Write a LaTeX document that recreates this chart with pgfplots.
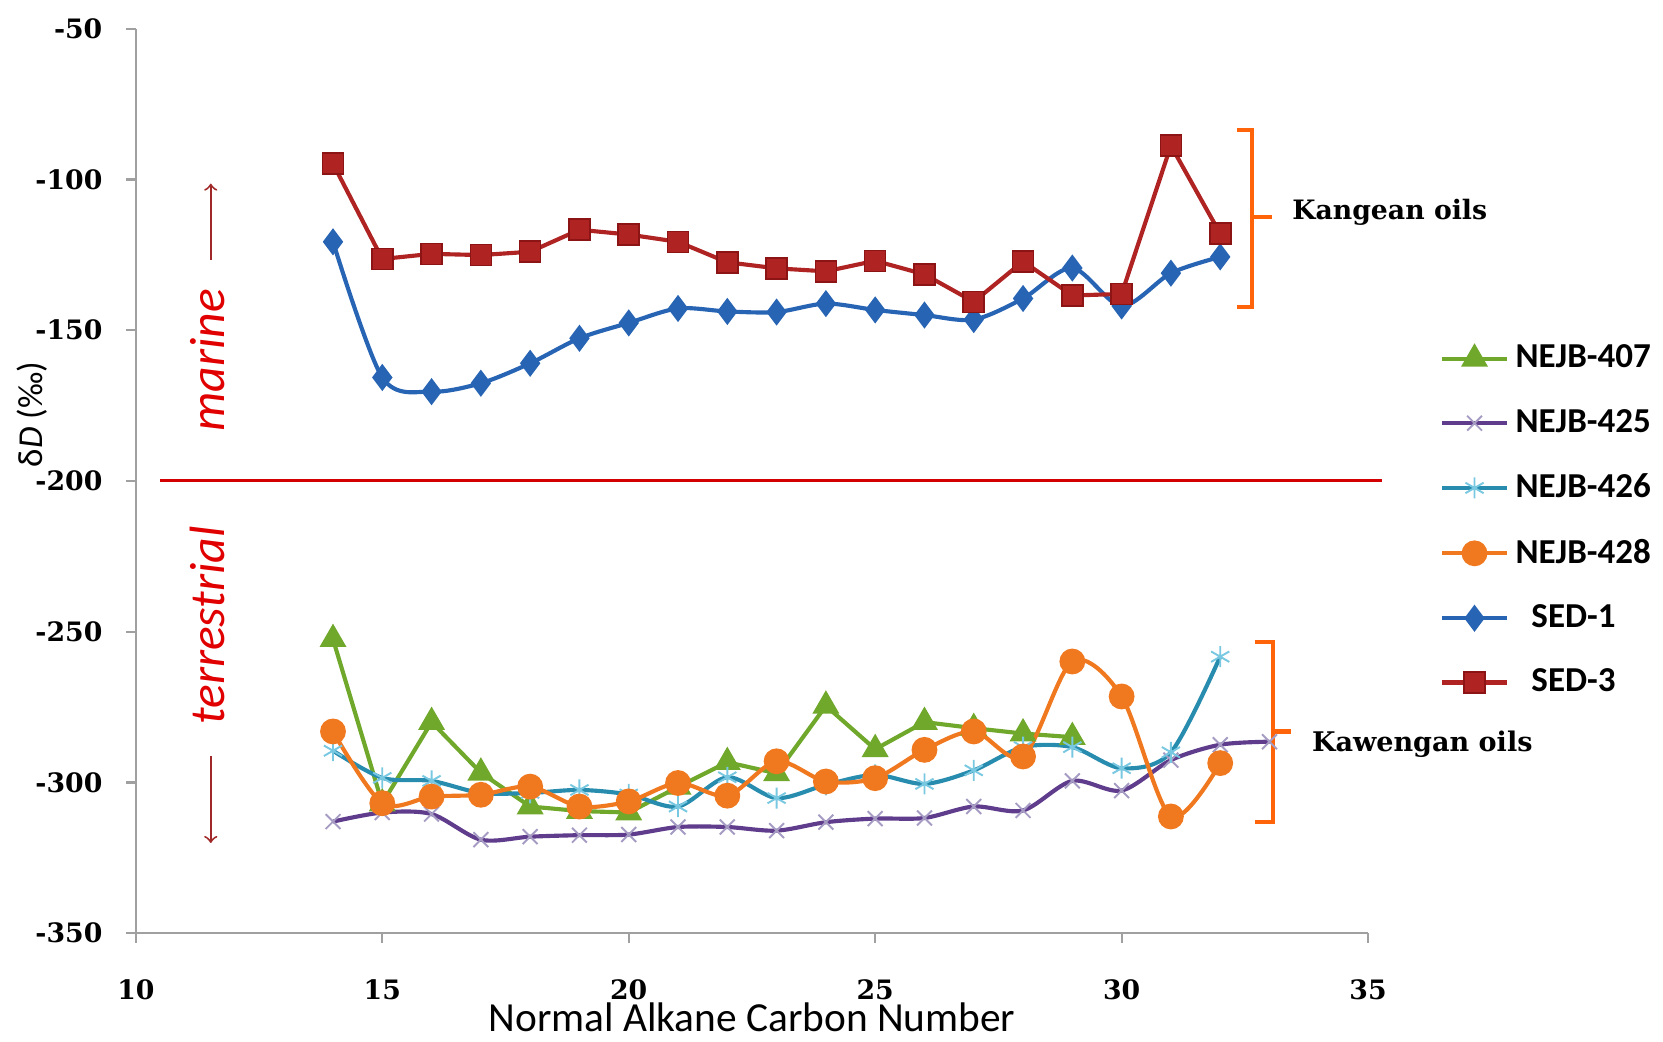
\documentclass[border=0pt]{standalone}
\usepackage{pgfplots}
\pgfplotsset{compat=1.18}
\usetikzlibrary{calc}
\usepackage{fontspec}
\setmainfont{DejaVu Serif}
\newfontfamily\carlito{Carlito}
\definecolor{cgreen}{RGB}{112,168,44}
\definecolor{cpurple}{RGB}{96,60,140}
\definecolor{cpurplem}{RGB}{165,155,195}
\definecolor{ccyan}{RGB}{40,140,175}
\definecolor{ccyanm}{RGB}{120,200,225}
\definecolor{corange}{RGB}{240,120,30}
\definecolor{cblue}{RGB}{40,100,180}
\definecolor{cred}{RGB}{175,35,35}
\definecolor{credm}{RGB}{140,20,20}
\definecolor{cbracket}{RGB}{255,100,10}
\definecolor{cline}{RGB}{210,0,0}
\definecolor{ctext}{RGB}{225,0,0}
\definecolor{carrow}{RGB}{160,40,40}
\definecolor{caxis}{RGB}{160,160,160}
\begin{document}
\begin{tikzpicture}
\begin{axis}[
  scale only axis,
  width=387.3pt, height=284.3pt,
  xmin=10, xmax=35, ymin=-350, ymax=-50,
  axis lines=left,
  axis line style={caxis, line width=0.7pt, -},
  xtick={10,15,...,35},
  ytick={-350,-300,-250,-200,-150,-100,-50},
  yticklabels={-350,-300,-250,-200,-150,-100,-50},
  xticklabels={10,15,20,25,30,35},
  tick align=outside,
  major tick length=3pt,
  tick style={caxis, line width=0.7pt},
  ticklabel style={font=\fontsize{8.4}{9}\selectfont\bfseries},
  yticklabel style={xshift=-4pt},
  xticklabel style={yshift=-8pt},
  clip=false,
  legend style={draw=none, fill=none, at={(1.05,0.456)}, anchor=west,
    font=\carlito\fontsize{11}{12}\selectfont\bfseries, row sep=7.5pt,
    legend cell align=left},
  legend image code/.code={\draw[mark repeat=2,mark phase=2] plot coordinates {(0cm,0cm)(0.36cm,0cm)(0.72cm,0cm)};},
]
\addplot[color=cgreen, line width=1.3pt, mark=triangle*, mark size=3.6pt] coordinates {
(14,-252.5)(15,-307)(16,-280)(17,-296.8)(18,-308)(19,-309.5)(20,-310)(21,-301.5)(22,-293.3)(23,-297)(24,-274.6)(25,-289)(26,-280)(27,-282)(28,-283.8)(29,-285)};
\addlegendentry{NEJB-407}
\addplot[color=cpurple, line width=1.3pt, smooth, mark=x, mark size=3.3pt, mark options={draw=cpurplem, line width=0.6pt}] coordinates {
(14,-313)(15,-310)(16,-310.5)(17,-319)(18,-318)(19,-317.5)(20,-317.3)(21,-314.8)(22,-314.8)(23,-316)(24,-313.2)(25,-312)(26,-311.8)(27,-308)(28,-309.3)(29,-299.5)(30,-302.7)(31,-292.6)(32,-287.5)(33,-286.5)};
\addlegendentry{NEJB-425}
\addplot[color=ccyan, line width=1.3pt, smooth, mark=asterisk, mark size=3.3pt, mark options={draw=ccyanm, line width=0.6pt}] coordinates {
(14,-289.5)(15,-298.5)(16,-299.5)(17,-303.5)(18,-303.5)(19,-302.5)(20,-304)(21,-308)(22,-298.3)(23,-305.2)(24,-300.8)(25,-297.5)(26,-300.5)(27,-296)(28,-288.3)(29,-288.3)(30,-295.3)(31,-290)(32,-258.3)};
\addlegendentry{NEJB-426}
\addplot[color=corange, line width=1.3pt, smooth, mark=*, mark size=3.4pt] coordinates {
(14,-283.1)(15,-306.9)(16,-304.7)(17,-304.1)(18,-301.4)(19,-308)(20,-306.3)(21,-300.2)(22,-304.4)(23,-293)(24,-299.7)(25,-298.6)(26,-289.2)(27,-283.1)(28,-291.4)(29,-259.9)(30,-271.5)(31,-311.3)(32,-293.6)};
\addlegendentry{NEJB-428}
\addplot[color=cblue, line width=1.3pt, smooth, mark=diamond*, mark size=3.2pt] coordinates {
(14,-120.7)(15,-165.7)(16,-170.4)(17,-167.6)(18,-161)(19,-152.7)(20,-147.6)(21,-142.8)(22,-143.8)(23,-144)(24,-141.2)(25,-143.3)(26,-145)(27,-146.5)(28,-139.5)(29,-129.4)(30,-142)(31,-131.1)(32,-125.7)};
\addlegendentry{\hspace{5pt}SED-1}
\addplot[color=cred, line width=1.3pt, mark=square*, mark size=3.3pt, mark options={draw=credm, fill=cred, line width=0.5pt}] coordinates {
(14,-94.8)(15,-126.4)(16,-124.7)(17,-125.1)(18,-124)(19,-116.7)(20,-118.3)(21,-120.7)(22,-127.5)(23,-129.5)(24,-130.5)(25,-127)(26,-131.5)(27,-140.6)(28,-127.2)(29,-138.5)(30,-138)(31,-88.8)(32,-118)};
\addlegendentry{\hspace{5pt}SED-3}
% divider line
\draw[cline, line width=0.9pt] (axis cs:10.5,-200) -- (axis cs:35.28,-200);
% brackets
\draw[cbracket, line width=1.3pt] (axis cs:32.35,-83.7) -- (axis cs:32.64,-83.7) -- (axis cs:32.64,-142.2) -- (axis cs:32.35,-142.2);
\draw[cbracket, line width=1.3pt] (axis cs:32.64,-112.4) -- (axis cs:33.06,-112.4);
\node[anchor=west, inner sep=0pt, font=\fontsize{8.4}{9}\selectfont\bfseries] at (axis cs:33.45,-111) {Kangean oils};
\draw[cbracket, line width=1.3pt] (axis cs:32.7,-253.3) -- (axis cs:33.07,-253.3) -- (axis cs:33.07,-313) -- (axis cs:32.7,-313);
\draw[cbracket, line width=1.3pt] (axis cs:33.07,-283.1) -- (axis cs:33.44,-283.1);
\node[anchor=west, inner sep=0pt, font=\fontsize{8.5}{9}\selectfont\bfseries] at (axis cs:33.85,-287.5) {Kawengan oils};
% marine / terrestrial
\node[rotate=90, text=ctext, inner sep=0pt, font=\carlito\itshape\fontsize{15.6}{17}\selectfont] at (axis cs:11.46,-160) {marine};
\node[rotate=90, text=ctext, inner sep=0pt, font=\carlito\itshape\fontsize{15.6}{17}\selectfont] at (axis cs:11.46,-248) {terrestrial};
\draw[carrow, line width=0.6pt, ->] (axis cs:11.52,-126.7) -- (axis cs:11.52,-101.4);
\draw[carrow, line width=0.6pt, ->] (axis cs:11.52,-291.3) -- (axis cs:11.52,-320.1);
% axis labels
\node[rotate=90, inner sep=0pt, font=\carlito\fontsize{11}{12}\selectfont] at (axis cs:7.9,-178) {δ\textit{D} (‰)};
\node[inner sep=0pt, font=\carlito\fontsize{13}{15}\selectfont] at (axis cs:22.5,-378) {Normal Alkane Carbon Number};
\end{axis}
\pgfresetboundingbox
\path[use as bounding box] ($(current axis.south west)+(-42.7pt,-34pt)$) rectangle ($(current axis.north east)+(92.7pt,9pt)$);
\end{tikzpicture}
\end{document}
